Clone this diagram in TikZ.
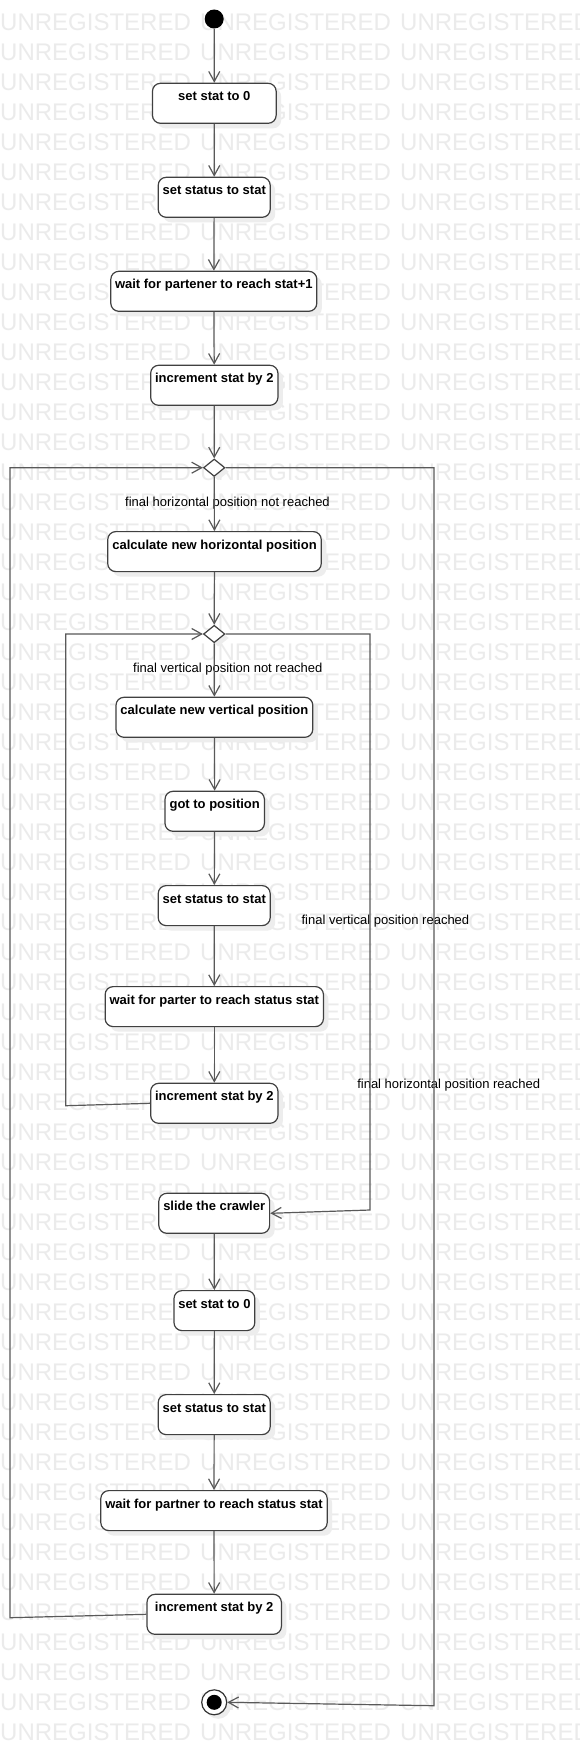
\documentclass[tikz,border=0pt]{standalone}
\usepackage{fontspec}
\setmainfont{Liberation Sans}
\usetikzlibrary{shapes.geometric,arrows.meta,shadows}

\tikzset{
    act/.style={draw=black!75, line width=1.2pt, fill=white, rounded corners=8pt,
        anchor=north, inner xsep=0pt, inner ysep=0pt, text height=17.5pt, text depth=22.5pt,
        font=\fontsize{13}{15}\selectfont\bfseries,
        drop shadow={shadow xshift=5pt, shadow yshift=-5pt, fill=black!7, opacity=1}},
    dec/.style={diamond, draw=black!75, line width=1.2pt, fill=white, inner sep=0pt,
        minimum width=21.4pt, minimum height=17.4pt,
        drop shadow={shadow xshift=4pt, shadow yshift=-4pt, fill=black!7, opacity=1}},
    start/.style={circle, fill=black, inner sep=0pt, minimum size=19pt},
    finalo/.style={circle, draw=black!80, line width=1.2pt, fill=white, inner sep=0pt, minimum size=25pt,
        drop shadow={shadow xshift=4pt, shadow yshift=-4pt, fill=black!7, opacity=1}},
    finali/.style={circle, fill=black, inner sep=0pt, minimum size=15pt},
    flow/.style={draw=black!65, line width=1.2pt, -{Straight Barb[length=10pt,width=11pt]}},
    guard/.style={inner sep=0pt, font=\fontsize{13}{15}\selectfont},
    wm/.style={anchor=west, inner sep=0pt, text=black!8, font=\fontsize{24}{24}\selectfont}
}

\begin{document}
\begin{tikzpicture}[x=1pt,y=-1pt]
    \useasboundingbox (0,0) rectangle (579,1755);
    \fill[white] (0,0) rectangle (579,1755);
    % watermark
    \begin{scope}
        \clip (0,0) rectangle (579,1755);
        \foreach \r in {0,...,57}
            \foreach \c in {0,1,2}
                \node[wm] (wm-\r-\c) at (\c*200, 22+\r*30) {UNREGISTERED};
    \end{scope}
    % start and end
    \node[start] (init) at (214.2, 19) {};
    \node[finalo] (final) at (214.2, 1702.3) {};
    \node[finali] (finaldot) at (final) {};
    % actions
    \node[act, minimum width=123.7pt] (b1) at (214.3, 82.7) {set stat to 0};
    \node[act, minimum width=112pt] (b2) at (214.2, 176.7) {set status to stat};
    \node[act, minimum width=206pt] (b3) at (213.8, 270.7) {wait for partener to reach stat+1};
    \node[act, minimum width=127.3pt] (b4) at (214.3, 364.7) {increment stat by 2};
    \node[dec] (d1) at (214.2, 467.7) {};
    \node[act, minimum width=213.5pt] (b5) at (214.5, 531) {calculate new horizontal position};
    \node[dec] (d2) at (214.2, 634) {};
    \node[act, minimum width=196.8pt] (b6) at (214.4, 696.7) {calculate new vertical position};
    \node[act, minimum width=99.4pt] (b7) at (214.7, 790.7) {got to position};
    \node[act, minimum width=112pt] (b8) at (214.2, 885) {set status to stat};
    \node[act, minimum width=218.3pt] (b9) at (214.3, 986) {wait for parter to reach status stat};
    \node[act, minimum width=127.3pt] (b10) at (214.3, 1082.7) {increment stat by 2};
    \node[act, minimum width=110.8pt] (b11) at (214.2, 1192.7) {slide the crawler};
    \node[act, minimum width=80.8pt] (b12) at (214.4, 1290) {set stat to 0};
    \node[act, minimum width=112pt] (b13) at (214.2, 1394) {set status to stat};
    \node[act, minimum width=226.4pt] (b14) at (214, 1490) {wait for partner to reach status stat};
    \node[act, minimum width=134.4pt] (b15) at (214.2, 1593.7) {increment stat by 2};
    % guards
    \node[guard] (gh) at (227.5, 502.7) {final horizontal position not reached};
    \node[guard] (gv) at (227.8, 668.7) {final vertical position not reached};
    \node[guard] (gvr) at (385.4, 920.7) {final vertical position reached};
    \node[guard] (ghr) at (448.7, 1084.7) {final horizontal position reached};
    % loop corners
    \coordinate (inl) at (65.7, 1105.7);
    \coordinate (inr) at (370, 1210);
    \coordinate (outl) at (10, 1617.7);
    \coordinate (outr) at (434, 1705.7);
    % flow
    \draw[flow] (init) -- (b1);
    \draw[flow] (b1) -- (b2);
    \draw[flow] (b2) -- (b3);
    \draw[flow] (b3) -- (b4);
    \draw[flow] (b4) -- (d1);
    \draw[flow] (d1) -- (b5);
    \draw[flow] (b5) -- (d2);
    \draw[flow] (d2) -- (b6);
    \draw[flow] (b6) -- (b7);
    \draw[flow] (b7) -- (b8);
    \draw[flow] (b8) -- (b9);
    \draw[flow] (b9) -- (b10);
    \draw[flow] (b10.west) -- (inl) |- (d2.west);
    \draw[flow] (d2.east) -| (inr) -- (b11.east);
    \draw[flow] (b11) -- (b12);
    \draw[flow] (b12) -- (b13);
    \draw[flow] (b13) -- (b14);
    \draw[flow] (b14) -- (b15);
    \draw[flow] (b15.west) -- (outl) |- (d1.west);
    \draw[flow] (d1.east) -| (outr) -- (final.east);
\end{tikzpicture}
\end{document}
